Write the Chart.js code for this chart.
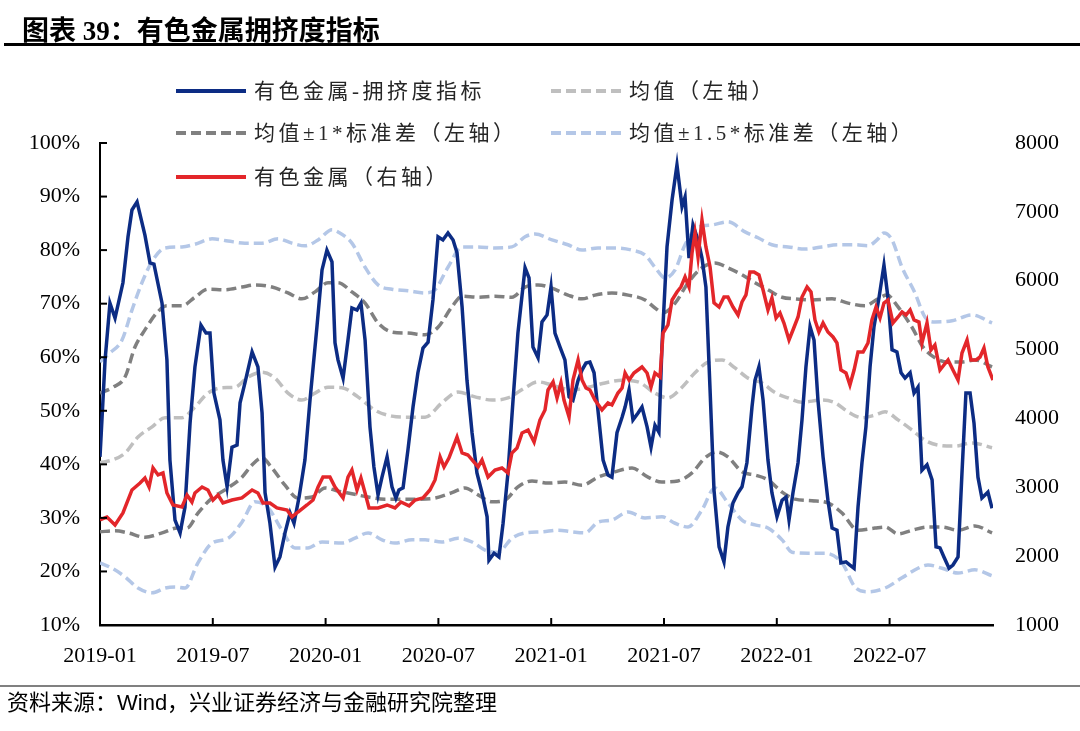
<!DOCTYPE html>
<html>
<head>
<meta charset="utf-8">
<script src="https://cdn.jsdelivr.net/npm/chart.js@4.4.0/dist/chart.umd.min.js"></script>
<style>
body { margin: 0; background: #fff; }
#wrap { position: relative; width: 1080px; height: 731px; }
#title { position: absolute; left: 22px; top: 9px; font: bold 27px "Liberation Serif", "Noto Sans CJK SC"; color: #000; white-space: nowrap; }
#titleRule { position: absolute; left: 4px; top: 43px; width: 1076px; height: 3px; background: #000; }
#srcRule { position: absolute; left: 0; top: 685px; width: 1080px; height: 2px; background: #808080; }
#source { position: absolute; left: 7px; top: 692px; font: 22px/22px "Liberation Sans", "Noto Sans CJK SC"; color: #000; white-space: nowrap; }
#chartBox { position: absolute; left: 0; top: 0; width: 1080px; height: 731px; }
</style>
</head>
<body>
<div id="wrap">
  <div id="chartBox"><canvas id="crowdChart"></canvas></div>
  <div id="title">图表 39：有色金属拥挤度指标</div>
  <div id="titleRule"></div>
  <div id="srcRule"></div>
  <div id="source">资料来源：Wind，兴业证券经济与金融研究院整理</div>
</div>
<script>
// x values are months since 2019-01
const tickMonths = [0, 6, 12, 18, 24, 30, 36, 42];
const tickLabels = ['2019-01', '2019-07', '2020-01', '2020-07', '2021-01', '2021-07', '2022-01', '2022-07'];

// 有色金属-拥挤度指标 (%)
const crowdMonth = [0.00,0.27,0.53,0.80,1.22,1.49,1.70,1.97,2.39,2.66,2.87,3.30,3.56,3.72,3.99,4.26,4.52,4.79,5.05,5.37,5.64,5.85,6.06,6.38,6.54,6.76,7.02,7.29,7.45,7.71,8.09,8.40,8.62,8.78,9.04,9.31,9.57,9.84,10.11,10.32,10.59,10.90,11.17,11.54,11.81,12.07,12.34,12.50,12.66,12.93,13.19,13.40,13.67,13.88,14.10,14.36,14.57,14.79,15.00,15.27,15.53,15.74,15.90,16.12,16.38,16.65,16.91,17.18,17.45,17.71,17.98,18.24,18.51,18.78,18.99,19.26,19.52,19.79,20.05,20.32,20.59,20.69,20.96,21.22,21.44,21.70,21.97,22.23,22.61,22.82,23.03,23.30,23.51,23.78,23.99,24.20,24.47,24.73,24.95,25.16,25.43,25.64,25.85,26.06,26.28,26.54,26.76,27.02,27.23,27.50,27.77,27.93,28.14,28.35,28.62,28.83,29.10,29.31,29.52,29.73,29.89,30.16,30.43,30.69,30.96,31.12,31.33,31.54,31.81,32.02,32.23,32.45,32.66,32.93,33.19,33.40,33.67,33.94,34.15,34.41,34.68,34.84,35.05,35.27,35.53,35.74,36.01,36.28,36.49,36.65,36.86,37.13,37.34,37.55,37.77,37.98,38.19,38.46,38.72,38.94,39.20,39.41,39.68,39.89,40.11,40.32,40.53,40.74,40.96,41.17,41.44,41.70,41.91,42.13,42.39,42.61,42.82,43.09,43.30,43.51,43.72,43.99,44.26,44.47,44.68,44.89,45.16,45.37,45.64,45.85,46.06,46.28,46.49,46.70,46.91,47.23,47.45];
const crowdPct = [41.4,59.5,70.1,67.3,73.9,82.5,87.5,89.0,82.8,77.6,77.4,70.1,59.5,40.8,29.6,27.2,32.0,47.7,58.2,66.0,64.5,64.5,53.3,48.3,40.8,35.8,43.2,43.6,51.5,55.2,61.0,58.2,49.6,34.7,29.0,20.8,22.7,27.2,30.9,29.0,33.9,40.8,52.0,65.7,76.3,80.0,77.8,62.7,59.5,56.1,63.2,69.2,68.8,70.1,63.2,47.0,39.5,34.3,37.6,41.4,35.8,33.7,35.2,35.6,42.7,50.7,57.1,61.7,62.8,70.7,82.5,81.9,83.2,81.9,79.5,69.4,55.7,45.9,38.4,34.7,30.2,22.1,23.4,22.7,29.0,38.4,52.0,64.5,76.7,74.8,61.9,59.9,66.6,67.9,73.1,64.5,61.9,59.5,52.6,52.0,55.7,57.6,58.9,59.1,57.1,48.3,40.8,38.0,37.6,45.9,48.8,50.7,53.9,48.3,49.6,50.7,47.0,43.2,47.3,46.0,61.9,80.6,89.4,95.9,88.1,89.9,78.5,84.7,81.9,78.5,73.1,53.9,35.2,24.6,21.8,28.3,32.8,34.7,35.8,40.3,50.7,55.7,58.2,52.0,40.8,34.7,30.2,33.3,33.9,29.6,34.7,40.3,48.3,58.2,65.7,63.2,52.0,41.4,33.3,28.1,27.7,21.6,21.8,21.2,20.6,32.0,40.3,47.0,58.2,65.7,71.2,77.2,71.2,61.4,61.0,57.1,56.1,57.1,53.3,54.4,38.9,39.9,37.1,24.6,24.4,22.7,20.6,21.2,22.7,38.4,53.3,53.3,47.7,37.6,33.7,34.8,31.8];

// 有色金属指数 (right axis)
const priceMonth = [0.00,0.37,0.80,1.22,1.70,2.13,2.39,2.61,2.82,3.09,3.35,3.56,3.88,4.36,4.63,4.89,5.05,5.43,5.74,6.01,6.28,6.54,7.02,7.55,8.09,8.40,8.67,9.04,9.41,9.95,10.21,10.53,11.01,11.33,11.60,11.86,12.23,12.50,12.93,13.19,13.40,13.67,13.88,14.10,14.31,14.79,15.27,15.69,16.01,16.44,16.76,17.18,17.55,17.82,18.09,18.30,18.56,18.99,19.26,19.57,20.11,20.32,20.64,21.01,21.38,21.70,21.91,22.18,22.45,22.77,23.09,23.40,23.67,23.83,24.10,24.31,24.52,24.68,24.95,25.16,25.43,25.64,25.85,26.06,26.33,26.70,27.02,27.23,27.55,27.77,27.93,28.14,28.40,28.83,29.10,29.31,29.52,29.79,29.95,30.21,30.43,30.69,30.90,31.12,31.33,31.49,31.65,31.81,32.02,32.23,32.45,32.66,32.93,33.19,33.40,33.67,33.94,34.15,34.36,34.57,34.79,35.05,35.27,35.53,35.74,35.96,36.17,36.38,36.65,36.86,37.13,37.34,37.61,37.82,38.03,38.24,38.46,38.72,38.99,39.20,39.41,39.68,39.89,40.11,40.32,40.59,40.85,41.06,41.28,41.49,41.70,41.91,42.18,42.45,42.66,42.87,43.09,43.30,43.56,43.72,43.99,44.20,44.41,44.68,44.89,45.11,45.37,45.64,45.85,46.12,46.33,46.60,46.81,47.02,47.23,47.50];
const priceVal = [2525,2569,2453,2627,2961,3062,3135,3004,3280,3179,3208,2917,2743,2714,2888,2786,2917,3004,2961,2815,2888,2772,2815,2845,2961,2917,2772,2772,2700,2670,2569,2641,2743,2815,3004,3149,3149,3004,2845,3149,3251,2961,3135,2917,2700,2700,2743,2700,2786,2729,2815,2845,2961,3106,3440,3295,3425,3730,3498,3469,3295,3396,3149,3251,3280,3208,3498,3571,3789,3832,3658,3977,4123,4413,4529,4297,4515,4268,4021,4558,4849,4558,4442,4413,4268,4123,4224,4195,4369,4442,4660,4558,4660,4747,4660,4457,4660,4602,5241,5357,5720,5836,5909,6054,5909,6403,6693,6345,6882,6490,6200,5677,5618,5764,5764,5618,5502,5691,5793,6127,6127,6083,5865,5575,5749,5459,5531,5386,5139,5284,5473,5764,5909,5836,5430,5255,5386,5255,5183,5096,4703,4660,4486,4703,4965,4965,5096,5430,5618,5459,5676,5720,5386,5473,5546,5502,5575,5430,5400,5096,5386,4994,5066,4703,4776,4849,4703,4558,4950,5139,4849,4849,4892,5023,4747,4558];

// 均值 (%)
const meanMonth = [0,0.64,1.33,2.02,2.77,3.46,4.36,5.05,5.74,6.49,7.18,7.87,8.62,9.31,10.00,10.74,11.44,12.13,12.87,13.72,14.63,15.53,16.38,17.29,18.19,19.04,19.95,20.85,21.70,22.61,23.30,24.04,25.11,25.96,26.86,27.77,28.62,29.52,30.21,30.96,31.65,32.34,33.09,33.78,34.47,35.21,35.90,36.60,37.34,38.40,39.10,39.79,40.53,41.22,41.76,42.45,43.19,43.88,44.57,45.48,46.38,47.45];
const meanPct = [40.3,40.8,42.1,45.1,47.0,48.7,48.7,50.7,53.3,54.3,54.4,56.3,57.2,56.1,53.3,52.0,53.3,54.4,54.3,52.6,50.1,49.0,48.8,48.8,51.5,53.5,52.6,52.0,52.4,54.3,55.4,54.8,53.9,54.4,55.2,55.7,55.4,53.3,52.4,54.4,57.1,59.1,59.5,58.0,56.1,55.2,53.4,52.4,51.6,52.0,51.5,49.8,48.7,49.2,49.8,48.3,46.4,44.5,43.6,43.4,44.0,43.1];

// 均值 ± 1*标准差 (%)
const sd1UpMonth = [0,0.69,1.33,1.86,2.39,3.03,3.56,4.36,5.05,5.74,6.65,7.55,8.24,9.15,10.00,10.74,11.44,12.13,12.66,13.40,14.10,14.79,15.53,16.38,17.29,17.98,18.72,19.26,20.11,21.01,21.91,22.61,23.30,24.04,24.89,25.64,26.33,27.23,28.09,28.99,29.52,29.95,30.59,31.28,32.02,32.71,33.40,34.15,34.84,35.53,36.28,36.97,37.87,38.94,39.79,40.69,41.38,41.86,42.45,43.19,43.78,44.41,45.11,45.85,46.54,47.45];
const sd1UpPct = [53.3,54.4,56.3,61.9,65.1,68.3,69.6,69.6,71.2,72.7,72.6,73.1,73.5,73.1,72.0,70.9,72.2,73.9,73.9,72.2,70.1,66.4,64.7,64.5,64.2,65.6,69.4,71.4,71.2,71.4,71.2,73.1,73.5,72.9,71.6,70.9,71.6,72.0,71.6,70.7,69.2,68.3,70.1,73.9,76.7,77.6,76.7,75.4,73.9,72.6,71.2,70.9,70.7,70.9,70.1,69.6,70.9,71.6,69.4,65.6,61.9,59.9,59.1,59.1,59.5,58.2];
const sd1LoMonth = [0,0.80,1.49,2.39,3.30,4.10,4.63,5.21,5.96,6.81,7.55,8.09,8.62,9.15,9.84,10.53,11.28,11.97,12.66,13.40,14.26,15.16,16.06,16.91,17.82,18.72,19.41,20.11,20.85,21.54,22.23,22.98,23.83,24.73,25.64,26.49,27.39,28.30,29.15,29.89,30.74,31.49,32.18,32.82,33.40,34.15,34.84,35.53,36.28,36.97,37.87,38.72,39.47,40.32,41.22,41.76,42.45,43.19,44.04,44.79,45.64,46.54,47.45];
const sd1LoPct = [27.4,27.6,27.2,26.4,27.2,28.1,28.1,30.9,33.7,35.6,37.6,39.9,41.2,39.3,36.1,33.7,33.9,35.6,35.0,34.5,33.9,33.5,33.5,33.5,33.7,34.7,35.6,34.3,33.0,33.3,35.8,36.9,36.5,36.7,36.1,37.6,38.6,39.3,37.6,36.7,36.9,38.4,41.2,42.3,41.4,38.6,38.0,37.1,34.8,33.5,33.2,32.8,30.9,27.7,28.1,28.3,27.0,27.7,28.3,28.3,27.7,28.5,27.2];

// 均值 ± 1.5*标准差 (%)
const sd15UpMonth = [0,0.53,1.17,1.70,2.23,2.82,3.46,4.36,5.05,5.96,6.81,7.71,8.62,9.47,10.21,10.90,11.60,12.34,12.66,13.40,14.10,14.79,15.53,16.38,17.29,17.82,18.51,19.26,20.11,21.01,21.91,22.61,23.14,24.04,24.89,25.64,26.49,27.39,28.30,28.99,29.52,30.05,30.59,31.12,31.81,32.55,33.40,34.31,35.00,35.74,36.60,37.50,38.40,39.26,40.16,40.85,41.33,41.70,42.13,42.66,43.35,43.88,44.41,45.32,46.38,47.45];
const sd15UpPct = [59.1,60.8,63.2,68.8,73.9,78.2,80.4,80.6,81.1,82.1,81.7,81.3,81.3,82.1,81.3,80.8,81.9,83.8,83.4,81.3,76.8,73.5,72.7,72.4,72.0,72.6,76.8,80.6,80.6,80.4,80.6,82.5,83.0,81.9,81.0,80.0,80.4,80.4,80.0,79.1,76.8,74.8,76.3,81.0,84.3,84.7,85.3,83.4,82.3,81.0,80.6,80.2,80.6,81.0,81.0,80.8,81.9,83.2,81.9,76.8,72.0,67.5,66.6,66.8,67.9,66.4];
const sd15LoMonth = [0,0.64,1.33,2.02,2.77,3.46,3.99,4.52,5.21,5.96,6.81,7.55,8.24,8.94,9.68,10.37,11.06,11.81,12.87,13.56,14.26,15.00,15.69,16.60,17.29,18.19,19.04,19.79,20.48,21.17,21.91,22.61,23.51,24.36,25.11,25.80,26.49,27.23,28.09,28.99,29.89,30.59,31.28,32.02,32.71,33.40,34.15,34.84,35.53,36.28,36.81,37.66,38.56,39.47,40.16,40.85,41.76,42.66,43.51,44.04,44.79,45.64,46.54,47.45];
const sd15LoPct = [21.6,20.6,19.0,16.9,16.0,16.9,17.1,16.9,21.6,25.3,26.2,29.2,33.0,31.9,27.7,24.4,24.4,25.5,25.3,26.2,27.2,25.9,25.3,25.9,25.9,25.5,26.2,25.5,24.0,23.6,26.2,27.2,27.4,27.7,27.4,27.2,29.2,29.6,31.1,30.0,30.2,29.0,28.3,31.5,35.6,32.8,29.6,28.7,28.1,25.9,23.6,23.4,23.4,21.6,17.1,16.2,16.9,18.8,20.6,21.2,20.6,19.7,20.3,19.2];

const pts = (xs, ys) => xs.map((x, i) => ({ x: x, y: ys[i] }));

const BLUE = '#0c2c84';
const RED = '#e3262a';
const LIGHTGRAY = '#bfbfbf';
const DARKGRAY = '#808080';
const LIGHTBLUE = '#b4c7e7';
const DASH = [10, 5];

function band(data, color) {
    return {
        data: data,
        yAxisID: 'y',
        borderColor: color,
        borderWidth: 3.5,
        borderDash: DASH,
        pointRadius: 0,
        cubicInterpolationMode: 'monotone',
        fill: false
    };
}

// legend: [label, dataset index, column, row]
const legendItems = [
    ['有色金属-拥挤度指标', 1, 0, 0],
    ['均值（左轴）', 2, 1, 0],
    ['均值±1*标准差（左轴）', 3, 0, 1],
    ['均值±1.5*标准差（左轴）', 5, 1, 1],
    ['有色金属（右轴）', 0, 0, 2]
];

const customLegend = {
    id: 'customLegend',
    afterDraw(chart) {
        const ctx = chart.ctx;
        const colX = [176, 551];
        const rowY = [91, 133, 177];
        ctx.save();
        legendItems.forEach(item => {
            const ds = chart.data.datasets[item[1]];
            const x = colX[item[2]];
            const y = rowY[item[3]];
            ctx.beginPath();
            ctx.strokeStyle = ds.borderColor;
            ctx.lineWidth = 4;
            ctx.setLineDash(ds.borderDash || []);
            ctx.moveTo(x, y);
            ctx.lineTo(x + 70, y);
            ctx.stroke();
            ctx.setLineDash([]);
            ctx.fillStyle = '#262626';
            ctx.font = '21px "Liberation Serif", "Noto Sans CJK SC"';
            ctx.letterSpacing = '3.5px';
            ctx.textBaseline = 'middle';
            ctx.fillText(item[0], x + 78, y + 1);
        });
        ctx.restore();
    }
};

// short inward ticks on the left and bottom axes
const innerTicks = {
    id: 'innerTicks',
    afterDraw(chart) {
        const { ctx, chartArea, scales } = chart;
        ctx.save();
        ctx.strokeStyle = '#000';
        ctx.lineWidth = 2;
        scales.y.ticks.forEach(t => {
            const py = scales.y.getPixelForValue(t.value);
            ctx.beginPath();
            ctx.moveTo(chartArea.left, py);
            ctx.lineTo(chartArea.left + 7, py);
            ctx.stroke();
        });
        scales.x.ticks.forEach(t => {
            const px = scales.x.getPixelForValue(t.value);
            ctx.beginPath();
            ctx.moveTo(px, chartArea.bottom);
            ctx.lineTo(px, chartArea.bottom - 7);
            ctx.stroke();
        });
        ctx.restore();
    }
};

const ctx1 = document.getElementById('crowdChart');
const crowdChart = new Chart(ctx1, {
    type: 'line',
    data: {
        datasets: [
            {
                data: pts(priceMonth, priceVal),
                yAxisID: 'y1',
                borderColor: RED,
                borderWidth: 3.5,
                pointRadius: 0,
                tension: 0
            },
            {
                data: pts(crowdMonth, crowdPct),
                yAxisID: 'y',
                borderColor: BLUE,
                borderWidth: 3.5,
                pointRadius: 0,
                tension: 0
            },
            band(pts(meanMonth, meanPct), LIGHTGRAY),
            band(pts(sd1UpMonth, sd1UpPct), DARKGRAY),
            band(pts(sd1LoMonth, sd1LoPct), DARKGRAY),
            band(pts(sd15UpMonth, sd15UpPct), LIGHTBLUE),
            band(pts(sd15LoMonth, sd15LoPct), LIGHTBLUE)
        ]
    },
    plugins: [customLegend, innerTicks],
    options: {
        responsive: true,
        maintainAspectRatio: false,
        animation: false,
        layout: { padding: { left: 0, right: 0, top: 143, bottom: 56 } },
        plugins: {
            legend: { display: false },
            tooltip: { enabled: false }
        },
        scales: {
            x: {
                type: 'linear',
                min: 0,
                max: 47.5,
                afterBuildTicks: scale => { scale.ticks = tickMonths.map(v => ({ value: v })); },
                afterFit: scale => { scale.height = 50; },
                grid: { display: false, drawTicks: false },
                border: { display: true, color: '#000', width: 2.5 },
                ticks: {
                    autoSkip: false,
                    maxRotation: 0,
                    padding: 18,
                    color: '#000',
                    font: { family: 'Liberation Serif', size: 22 },
                    callback: v => tickLabels[tickMonths.indexOf(v)] || ''
                }
            },
            y: {
                position: 'left',
                min: 10,
                max: 100,
                afterFit: scale => { scale.width = 100; },
                grid: { display: false, drawTicks: false },
                border: { display: true, color: '#000', width: 2 },
                ticks: {
                    stepSize: 10,
                    padding: 20,
                    color: '#000',
                    font: { family: 'Liberation Serif', size: 22 },
                    callback: v => v + '%'
                }
            },
            y1: {
                position: 'right',
                min: 1000,
                max: 8000,
                afterFit: scale => { scale.width = 87; },
                grid: { display: false, drawTicks: false },
                border: { display: false },
                ticks: {
                    stepSize: 1000,
                    padding: 22,
                    color: '#000',
                    font: { family: 'Liberation Serif', size: 22 },
                    callback: v => String(v)
                }
            }
        }
    }
});
</script>
</body>
</html>
